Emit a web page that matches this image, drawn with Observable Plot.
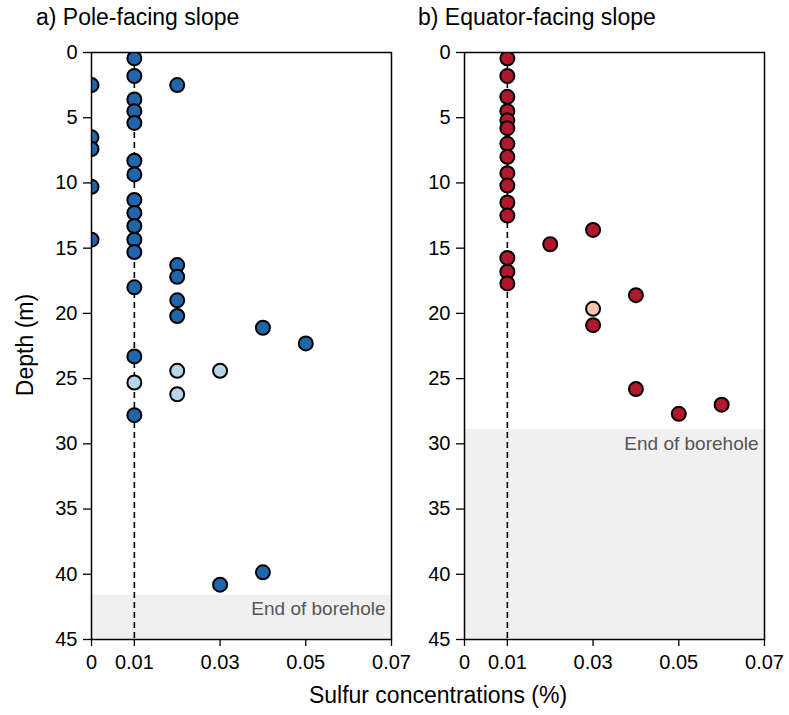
<!DOCTYPE html>
<html>
<head>
<meta charset="utf-8">
<script src="https://cdn.jsdelivr.net/npm/d3@7"></script>
<script src="https://cdn.jsdelivr.net/npm/@observablehq/plot@0.6"></script>
<style>
  html, body { margin: 0; padding: 0; background: #fff; }
  #wrap { position: relative; width: 789px; height: 715px; font-family: "Liberation Sans", Arial, sans-serif; color: #000; overflow: hidden; }
  .panel { position: absolute; top: 0; }
  .lbl { position: absolute; white-space: nowrap; font-size: 23px; line-height: 1; }
</style>
</head>
<body>
<div id="wrap">
  <div class="lbl" style="left:36px; top:6px;">a) Pole-facing slope</div>
  <div class="lbl" style="left:418px; top:6px;">b) Equator-facing slope</div>
  <div class="lbl" style="left:25px; top:345px; transform: translate(-50%,-50%) rotate(-90deg);">Depth (m)</div>
  <div class="lbl" style="left:438px; top:695px; transform: translate(-50%,-50%);">Sulfur concentrations (%)</div>
  <div id="left" class="panel" style="left:0px;"></div>
  <div id="right" class="panel" style="left:373px;"></div>
</div>
<script>
// ---- Data ----
// a) Pole-facing slope
const poleConc  = [0.01,0.01,0.01,0.01,0.01,0.01,0.01,0.01,0.01,0.01,0.01,0.01,0.01,0.01,0.01,0.01,
                   0,0,0,0,0,
                   0.02,0.02,0.02,0.02,0.02,0.02,0.02,
                   0.03,0.03,
                   0.04,0.04,
                   0.05];
const poleDepth = [0.45,1.8,3.6,4.5,5.4,8.3,9.35,11.3,12.3,13.3,14.35,15.3,18.0,23.3,25.3,27.8,
                   2.5,6.5,7.4,10.3,14.35,
                   2.5,16.3,17.2,19.0,20.2,24.4,26.2,
                   24.4,40.8,
                   21.1,39.85,
                   22.3];
const poleType  = ["dark","dark","dark","dark","dark","dark","dark","dark","dark","dark","dark","dark","dark","dark","light","dark",
                   "dark","dark","dark","dark","dark",
                   "dark","dark","dark","dark","dark","light","light",
                   "light","dark",
                   "dark","dark",
                   "dark"];
// b) Equator-facing slope
const eqConc  = [0.01,0.01,0.01,0.01,0.01,0.01,0.01,0.01,0.01,0.01,0.01,0.01,0.01,0.01,0.01,
                 0.02,
                 0.03,0.03,0.03,
                 0.04,0.04,
                 0.05,
                 0.06];
const eqDepth = [0.45,1.8,3.4,4.5,5.2,5.8,7.0,8.0,9.25,10.2,11.5,12.5,15.75,16.8,17.7,
                 14.7,
                 13.6,19.65,20.9,
                 18.6,25.8,
                 27.7,
                 27.0];
const eqType  = ["dark","dark","dark","dark","dark","dark","dark","dark","dark","dark","dark","dark","dark","dark","dark",
                 "dark",
                 "dark","light","dark",
                 "dark","dark",
                 "dark",
                 "dark"];
// borehole end depths (m): pole, equator
const boreholeEnd = [41.6, 28.9];
const detectionLimit = [0.01];
const xTicks = [0, 0.01, 0.03, 0.05, 0.07];
const xTickLabels = ["0", "0.01", "0.03", "0.05", "0.07"];
const yTicks = [0, 5, 10, 15, 20, 25, 30, 35, 40, 45];

const FONT = '"Liberation Sans", Arial, sans-serif';

function panel(conc, depth, type, endDepth, colors, width) {
  const data = conc.map((c, i) => ({conc: c, depth: depth[i], type: type[i]}));
  return Plot.plot({
    width: width,
    height: 680,
    marginLeft: 91,
    marginRight: width - 391,
    marginTop: 52,
    marginBottom: 41,
    style: {fontFamily: FONT, fontSize: "20px", background: "transparent", color: "#000", overflow: "visible"},
    x: {domain: [0, 0.07], label: null},
    y: {domain: [0, 45], reverse: true, label: null},
    color: {domain: ["dark", "light"], range: colors},
    marks: [
      Plot.rect([endDepth], {x1: 0, x2: 0.07, y1: d => d, y2: 45, fill: "#f0f0f0"}),
      Plot.text([endDepth], {x: 0.07, y: d => d, text: () => "End of borehole", textAnchor: "end",
        lineAnchor: "middle", dx: -6, dy: 14, fill: "#555", fontSize: 19, fontFamily: FONT}),
      Plot.ruleX(detectionLimit, {stroke: "#000", strokeWidth: 1.6, strokeDasharray: "6,4"}),
      Plot.dot(data, {x: "conc", y: "depth", r: 7, fill: "type", stroke: "#000", strokeWidth: 2, clip: true}),
      Plot.frame({stroke: "#000", strokeWidth: 1.5}),
      Plot.axisY({ticks: yTicks, tickSize: 8, tickPadding: 6, fontSize: 20, label: null, strokeWidth: 1.3}),
      Plot.axisX({ticks: xTicks, tickFormat: d => xTickLabels[xTicks.indexOf(d)], tickSize: 7, tickPadding: 8,
        fontSize: 20, label: null, strokeWidth: 1.3})
    ]
  });
}

document.getElementById("left").appendChild(
  panel(poleConc, poleDepth, poleType, boreholeEnd[0], ["#2166ac", "#b8d6ea"], 420));
document.getElementById("right").appendChild(
  panel(eqConc, eqDepth, eqType, boreholeEnd[1], ["#b2182b", "#f5c6ad"], 416));
</script>
</body>
</html>
